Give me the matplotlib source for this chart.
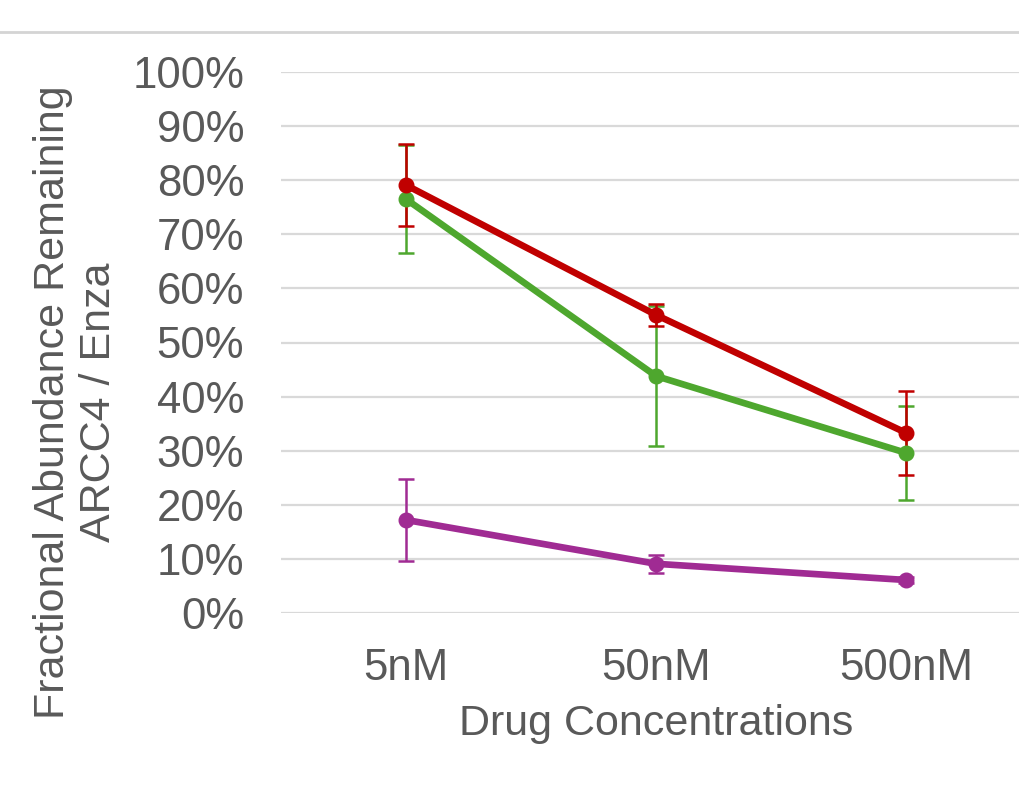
import matplotlib
matplotlib.use("Agg")
import matplotlib.pyplot as plt
from matplotlib.ticker import PercentFormatter
from matplotlib.lines import Line2D

plt.rcParams['font.family'] = ['Liberation Sans', 'DejaVu Sans']

categories = ["5nM", "50nM", "500nM"]
red_vals = [0.791, 0.551, 0.333]
red_err = [0.075, 0.021, 0.077]
green_vals = [0.765, 0.438, 0.296]
green_err = [0.100, 0.130, 0.087]
purple_vals = [0.172, 0.091, 0.061]
purple_err = [0.076, 0.017, 0.006]
yticks = [0, 0.1, 0.2, 0.3, 0.4, 0.5, 0.6, 0.7, 0.8, 0.9, 1.0]

text_color = "#595959"
fig = plt.figure(figsize=(10.2, 7.86), dpi=100)
ax = fig.add_axes([281/1020, 1-613/786, 750/1020, (613-72)/786])

x = list(range(len(categories)))
series = [
    (purple_vals, purple_err, "#A02B93"),
    (green_vals, green_err, "#4EA72E"),
    (red_vals, red_err, "#C00000"),
]
for vals, err, col in series:
    ax.errorbar(x, vals, yerr=err, color=col, lw=4.8, marker="o", ms=10.5,
                ecolor=col, elinewidth=1.8, capsize=6, capthick=1.8, zorder=3)

ax.set_xlim(-0.5, 2.5)
ax.set_ylim(0, 1.0)
ax.set_yticks(yticks)
ax.yaxis.set_major_formatter(PercentFormatter(1.0, decimals=0))
ax.set_xticks(x)
ax.set_xticklabels(categories)
ax.grid(axis="y", color="#d9d9d9", lw=1.6, zorder=0)
ax.set_axisbelow(True)
for s in ax.spines.values():
    s.set_visible(False)
ax.tick_params(axis="y", length=0, pad=26.5, labelsize=31.5, labelcolor=text_color)
ax.tick_params(axis="x", length=0, pad=25, labelsize=31.5, labelcolor=text_color)

fig.text(656/1020, 1-724/786, "Drug Concentrations", ha="center", va="center",
         fontsize=31, color=text_color)
fig.text(76/1020, 1-402/786, "Fractional Abundance Remaining\nARCC4 / Enza",
         ha="center", va="center", rotation=90, fontsize=31, color=text_color,
         multialignment="center", linespacing=1.22)

fig.add_artist(Line2D([0, 1], [1-32/786, 1-32/786], transform=fig.transFigure,
                      color="#d4d4d4", lw=2))

fig.savefig("out.png", dpi=100)
